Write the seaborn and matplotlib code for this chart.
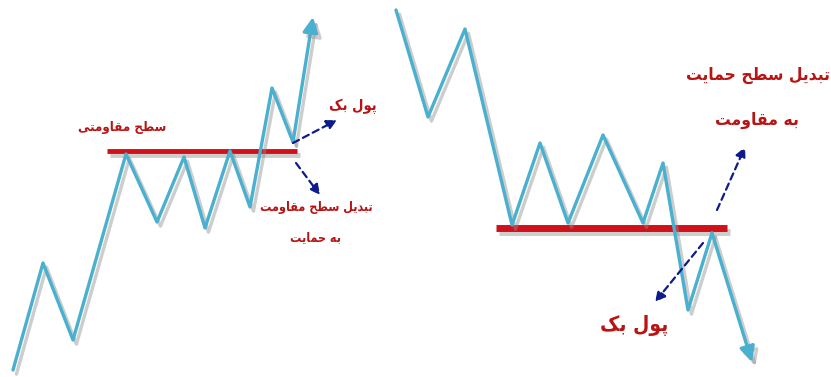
import numpy as np
import matplotlib.pyplot as plt
import seaborn as sns
import matplotlib.patheffects as pe

sns.set_style('white')
plt.rcParams['font.family'] = ['DejaVu Sans']

# zigzag price paths (image pixel coordinates)
left_x = [13, 43, 73, 126, 157, 184, 205, 230, 250, 272, 293, 313]
left_y = [370, 263, 340, 154, 222, 157, 228, 151, 207, 88, 142, 17]
right_x = [396, 428, 465, 512, 540, 568, 603, 643, 663, 688, 712, 752]
right_y = [10, 117, 29, 225, 143, 223, 135, 223, 163, 310, 233, 362]

# resistance / support levels
left_level_x = [107, 297]
left_level_y = [151, 151]
right_level_x = [496, 727]
right_level_y = [228, 228]

# dashed pointers (start, end)
pointers = [((293, 143), (337, 120)), ((296, 163), (320, 195)),
            ((717, 210), (745, 147)), ((703, 243), (655, 302))]

labels = [("سطح مقاومتی", 122, 128, 9.5),
          ("پول بک", 353, 106, 10.5),
          ("تبدیل سطح مقاومت", 316, 208, 9),
          ("به حمایت", 315, 238, 9),
          ("پول بک", 634, 326, 15),
          ("تبدیل سطح حمایت", 758, 75, 12.5),
          ("به مقاومت", 757, 120, 12.5)]

# minimal arabic/persian shaping: isolated, final, initial, medial
FORMS = {
    'ا': ('\uFE8D', '\uFE8E', None, None),
    'ب': ('\uFE8F', '\uFE90', '\uFE91', '\uFE92'),
    'ت': ('\uFE95', '\uFE96', '\uFE97', '\uFE98'),
    'ح': ('\uFEA1', '\uFEA2', '\uFEA3', '\uFEA4'),
    'د': ('\uFEA9', '\uFEAA', None, None),
    'س': ('\uFEB1', '\uFEB2', '\uFEB3', '\uFEB4'),
    'ط': ('\uFEC1', '\uFEC2', '\uFEC3', '\uFEC4'),
    'ق': ('\uFED5', '\uFED6', '\uFED7', '\uFED8'),
    'ل': ('\uFEDD', '\uFEDE', '\uFEDF', '\uFEE0'),
    'م': ('\uFEE1', '\uFEE2', '\uFEE3', '\uFEE4'),
    'ه': ('\uFEE9', '\uFEEA', '\uFEEB', '\uFEEC'),
    'و': ('\uFEED', '\uFEEE', None, None),
    'پ': ('\uFB56', '\uFB57', '\uFB58', '\uFB59'),
    'ک': ('\uFB8E', '\uFB8F', '\uFB90', '\uFB91'),
    'ی': ('\uFBFC', '\uFBFD', '\uFBFE', '\uFBFF'),
}


def shape(s):
    out = []
    for i, c in enumerate(s):
        if c not in FORMS:
            out.append(c)
            continue
        prev = s[i - 1] if i > 0 else ' '
        nxt = s[i + 1] if i < len(s) - 1 else ' '
        jp = prev in FORMS and FORMS[prev][2] is not None
        jn = FORMS[c][2] is not None and nxt in FORMS
        iso, fin, ini, med = FORMS[c]
        if jp and jn:
            out.append(med)
        elif jp:
            out.append(fin)
        elif jn:
            out.append(ini)
        else:
            out.append(iso)
    return ''.join(out)[::-1]


blue = '#4ab0cf'
red = '#d0101a'
text_red = '#b81414'
navy = '#0d1b8c'
shadow = [pe.SimpleLineShadow(offset=(2.5, -3), shadow_color='#909090', alpha=0.45),
          pe.Normal()]

fig, ax = plt.subplots(figsize=(8.31, 3.77), dpi=100)
fig.subplots_adjust(0, 0, 1, 1)

sns.lineplot(x=left_level_x, y=left_level_y, ax=ax, color=red, lw=3.5, sort=False,
             estimator=None, path_effects=shadow, solid_capstyle='butt')
sns.lineplot(x=right_level_x, y=right_level_y, ax=ax, color=red, lw=5, sort=False,
             estimator=None, path_effects=shadow, solid_capstyle='butt')

for xs, ys in [(left_x, left_y), (right_x, right_y)]:
    sns.lineplot(x=xs[:-1], y=ys[:-1], ax=ax, color=blue, lw=2.4, sort=False,
                 estimator=None, path_effects=shadow)
    ax.annotate('', xy=(xs[-1], ys[-1]), xytext=(xs[-2], ys[-2]),
                arrowprops=dict(arrowstyle='-|>,head_length=0.9,head_width=0.45',
                                color=blue, lw=2.4, shrinkA=0, shrinkB=0,
                                path_effects=shadow))

for (x0, y0), (x1, y1) in pointers:
    ax.annotate('', xy=(x1, y1), xytext=(x0, y0),
                arrowprops=dict(arrowstyle='-|>,head_length=0.6,head_width=0.3',
                                color=navy, lw=1.6, ls=(0, (3, 2)),
                                shrinkA=0, shrinkB=0))

for txt, x, y, fs in labels:
    ax.text(x, y, shape(txt), ha='center', va='center', fontsize=fs,
            color=text_red, fontweight='bold', fontstretch='condensed')

ax.set_xlim(0, 831)
ax.set_ylim(377, 0)
ax.axis('off')
fig.savefig('out.png', dpi=100)
